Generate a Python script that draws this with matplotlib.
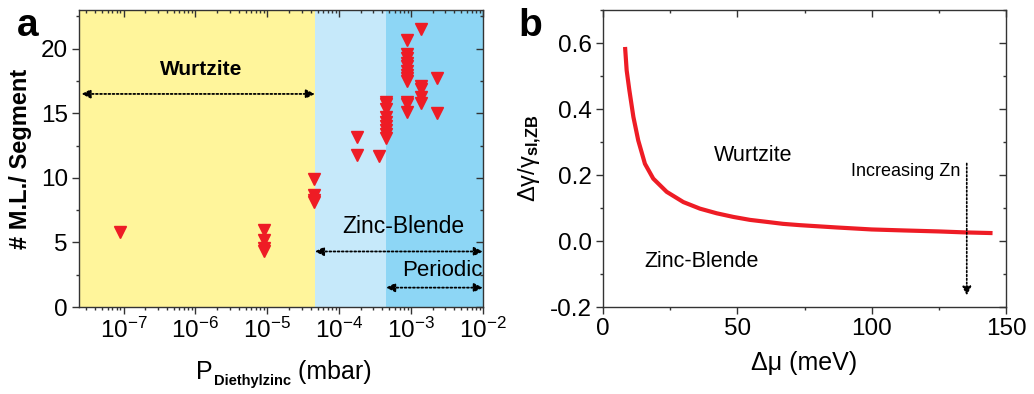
import matplotlib
matplotlib.use("Agg")
import matplotlib.pyplot as plt
from matplotlib.ticker import MultipleLocator, LogLocator, NullFormatter, FuncFormatter

plt.rcParams['font.family'] = ['Liberation Sans', 'DejaVu Sans']
plt.rcParams['mathtext.fontset'] = 'custom'
plt.rcParams['mathtext.rm'] = 'Liberation Sans'
plt.rcParams['mathtext.bf'] = 'Liberation Sans:bold'
plt.rcParams['mathtext.it'] = 'Liberation Sans:italic'
plt.rcParams['mathtext.default'] = 'regular'

# ---------------- data: panel a ----------------
p_dez = [9e-8,
         8.9e-6, 8.9e-6, 8.9e-6, 8.9e-6,
         4.4e-5, 4.4e-5, 4.4e-5, 4.4e-5,
         1.8e-4, 1.8e-4,
         3.6e-4,
         4.5e-4, 4.5e-4, 4.5e-4, 4.5e-4, 4.5e-4, 4.5e-4, 4.5e-4, 4.5e-4, 4.5e-4,
         8.9e-4, 8.9e-4, 8.9e-4, 8.9e-4, 8.9e-4, 8.9e-4, 8.9e-4, 8.9e-4, 8.9e-4, 8.9e-4, 8.9e-4, 8.9e-4,
         1.37e-3, 1.37e-3, 1.37e-3, 1.37e-3, 1.37e-3,
         2.3e-3, 2.3e-3]
ml_seg = [5.8,
          6.0, 5.2, 4.6, 4.3,
          9.9, 8.7, 8.3, 8.1,
          13.2, 11.8,
          11.7,
          15.9, 15.7, 15.3, 14.7, 14.3, 14.0, 13.7, 13.4, 13.1,
          20.7, 19.6, 19.3, 18.9, 18.7, 18.3, 18.0, 17.7, 17.5, 15.9, 15.7, 15.1,
          21.5, 17.1, 16.9, 16.3, 15.8,
          17.7, 15.0]
region_edges = [2.4e-8, 4.6e-5, 4.5e-4, 1e-2]
region_colors = ['#fff59b', '#c6e9fa', '#8dd6f5']

# ---------------- data: panel b ----------------
dmu = [8.2, 8.8, 9.8, 11.3, 13.1, 15.6, 18.7, 23.7, 29.9, 36.1, 42.3, 48.5,
       54.7, 60.9, 67.0, 73.3, 87.0, 100, 112, 125, 135, 145]
dgamma = [0.588, 0.517, 0.457, 0.376, 0.305, 0.234, 0.189, 0.149, 0.118, 0.098, 0.084, 0.073,
          0.064, 0.058, 0.052, 0.048, 0.041, 0.035, 0.032, 0.029, 0.026, 0.024]

fig = plt.figure(figsize=(10.34, 3.94), dpi=100)
axa = fig.add_axes([0.0764, 0.2208, 0.3906, 0.7538])
axb = fig.add_axes([0.5832, 0.2208, 0.3897, 0.7538])

red = '#ee1c25'
tick_fs = 17.5
spine_c = '#333333'

def style_axes(ax):
    for s in ax.spines.values():
        s.set_linewidth(1.0)
        s.set_color(spine_c)
    ax.tick_params(which='both', labelsize=tick_fs, width=1.0, color=spine_c,
                   direction='out', top=False, right=False)
    ax.tick_params(which='major', length=5, pad=3)
    ax.tick_params(which='minor', length=2.5)

def inner_ticks(sec, axis):
    sec.tick_params(which='both', direction='in', color=spine_c, width=1.0,
                    labeltop=False, labelright=False)
    sec.tick_params(which='major', length=5)
    sec.tick_params(which='minor', length=2.5)
    for s in sec.spines.values():
        s.set_visible(False)
    getattr(sec, axis + 'axis').set_major_formatter(NullFormatter())
    getattr(sec, axis + 'axis').set_minor_formatter(NullFormatter())

# ---------------- panel a ----------------
for i in range(3):
    axa.axvspan(region_edges[i], region_edges[i + 1], color=region_colors[i], lw=0, zorder=0)
axa.plot(p_dez, ml_seg, linestyle='none', marker='v', ms=9, color=red, mec=red, zorder=3)
axa.set_xscale('log')
axa.set_xlim(region_edges[0], region_edges[-1])
axa.set_ylim(0, 23)
axa.yaxis.set_major_locator(MultipleLocator(5))
axa.yaxis.set_minor_locator(MultipleLocator(2.5))
axa.xaxis.set_major_locator(LogLocator(base=10, numticks=20))
axa.xaxis.set_minor_locator(LogLocator(base=10, subs=range(2, 10), numticks=50))
axa.xaxis.set_minor_formatter(NullFormatter())
style_axes(axa)
sxa = axa.secondary_xaxis('top')
sxa.set_xscale('log')
sxa.xaxis.set_major_locator(LogLocator(base=10, numticks=20))
sxa.xaxis.set_minor_locator(LogLocator(base=10, subs=range(2, 10), numticks=50))
inner_ticks(sxa, 'x')
sya = axa.secondary_yaxis('right')
sya.yaxis.set_major_locator(MultipleLocator(5))
sya.yaxis.set_minor_locator(MultipleLocator(2.5))
inner_ticks(sya, 'y')

axa.set_ylabel('# M.L./ Segment', fontsize=17, fontweight='bold', labelpad=6)

# composite x label: P + small bold lowered subscript + (mbar)
base = -52
tP = axa.annotate('P', xy=(0.5, 0), xycoords='axes fraction', xytext=(-61, base),
                  textcoords='offset points', fontsize=18, ha='left', va='baseline',
                  annotation_clip=False)
tS = axa.annotate('Diethylzinc', xy=(1, 0), xycoords=(tP, 'axes fraction'),
                  xytext=(0.5, base - 4.5), textcoords='offset points', fontsize=10.5,
                  fontweight='bold', ha='left', va='baseline', annotation_clip=False)
tR = axa.annotate(' (mbar)', xy=(1, 0), xycoords=(tS, 'axes fraction'),
                  xytext=(0.5, base), textcoords='offset points', fontsize=18,
                  ha='left', va='baseline', annotation_clip=False)

arrow_kw = dict(arrowstyle='<|-|>', color='black', lw=1.3, ls=(0, (1, 1.3)),
                mutation_scale=13, shrinkA=0, shrinkB=0)
axa.annotate('', xy=(region_edges[1], 16.5), xytext=(2.6e-8, 16.5), arrowprops=arrow_kw)
axa.annotate('', xy=(region_edges[-1], 4.3), xytext=(region_edges[1], 4.3), arrowprops=arrow_kw)
axa.annotate('', xy=(region_edges[-1], 1.5), xytext=(region_edges[2], 1.5), arrowprops=arrow_kw)
axa.text(1.2e-6, 18.4, 'Wurtzite', fontsize=15, fontweight='bold', ha='center', va='center')
axa.text(7.8e-4, 6.2, 'Zinc-Blende', fontsize=16.5, ha='center', va='center')
axa.text(2.7e-3, 2.85, 'Periodic', fontsize=16, ha='center', va='center')
fig.text(0.027, 0.935, 'a', fontsize=28, fontweight='bold', ha='center', va='center')

# ---------------- panel b ----------------
axb.plot(dmu, dgamma, color=red, lw=3, solid_capstyle='butt', solid_joinstyle='round')
axb.set_xlim(0, 150)
axb.set_ylim(-0.2, 0.7)
axb.xaxis.set_major_locator(MultipleLocator(50))
axb.xaxis.set_minor_locator(MultipleLocator(25))
axb.yaxis.set_major_locator(MultipleLocator(0.2))
axb.yaxis.set_minor_locator(MultipleLocator(0.1))
axb.yaxis.set_major_formatter(FuncFormatter(lambda v, p: f'{v:.1f}'))
style_axes(axb)
sxb = axb.secondary_xaxis('top')
sxb.xaxis.set_major_locator(MultipleLocator(50))
sxb.xaxis.set_minor_locator(MultipleLocator(25))
inner_ticks(sxb, 'x')
syb = axb.secondary_yaxis('right')
syb.yaxis.set_major_locator(MultipleLocator(0.2))
syb.yaxis.set_minor_locator(MultipleLocator(0.1))
inner_ticks(syb, 'y')

axb.set_xlabel('Δμ (meV)', fontsize=18, labelpad=8)
axb.set_ylabel(r'$\Delta\gamma/\gamma_{\mathbf{sl{,}ZB}}$', fontsize=17, labelpad=4)
axb.text(56, 0.26, 'Wurtzite', fontsize=15.5, ha='center', va='center')
axb.text(36.7, -0.063, 'Zinc-Blende', fontsize=15.5, ha='center', va='center')
axb.text(133, 0.212, 'Increasing Zn', fontsize=13, ha='right', va='center')
axb.annotate('', xy=(135.4, -0.165), xytext=(135.4, 0.235),
             arrowprops=dict(arrowstyle='-|>', color='black', lw=1.2, ls=(0, (1, 1.3)),
                             mutation_scale=13, shrinkA=0, shrinkB=0))
fig.text(0.5125, 0.935, 'b', fontsize=28, fontweight='bold', ha='center', va='center')

fig.savefig('out.png', dpi=100)
